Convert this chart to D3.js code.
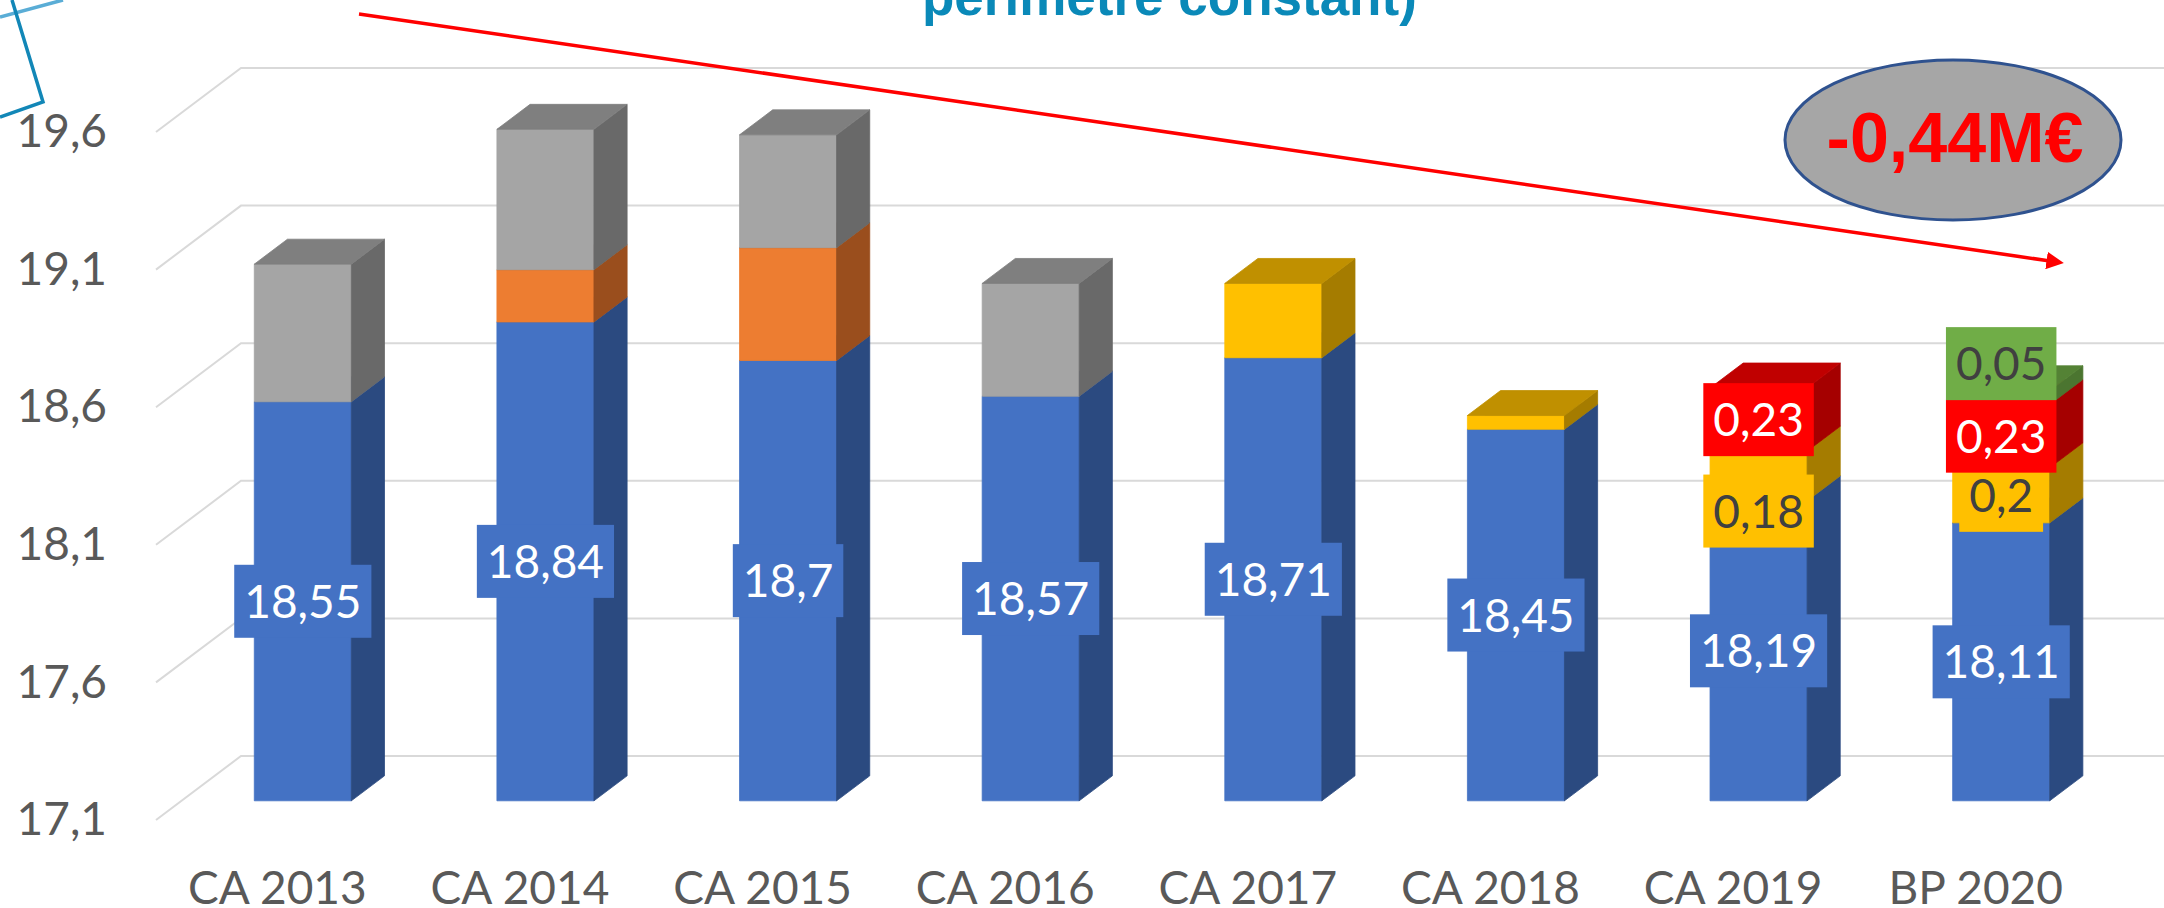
<!DOCTYPE html>
<html>
<head>
<meta charset="utf-8">
<script src="https://cdn.jsdelivr.net/npm/d3@7"></script>
<style>
  body { margin: 0; background: #fff; }
  svg { display: block; }
</style>
</head>
<body>
<svg width="2164" height="908"></svg>
<script>
// Chart data (values in M€)
var categories   = ["CA 2013", "CA 2014", "CA 2015", "CA 2016", "CA 2017", "CA 2018", "CA 2019", "BP 2020"];
var baseValues   = [18.55, 18.84, 18.7, 18.57, 18.71, 18.45, 18.19, 18.11];
var orangeValues = [0, 0.19, 0.41, 0, 0, 0, 0, 0];
var greyValues   = [0.5, 0.51, 0.41, 0.41, 0, 0, 0, 0];
var yellowValues = [0, 0, 0, 0, 0.27, 0.05, 0.18, 0.2];
var redValues    = [0, 0, 0, 0, 0, 0, 0.23, 0.23];
var greenValues  = [0, 0, 0, 0, 0, 0, 0, 0.05];
var tickValues   = [17.1, 17.6, 18.1, 18.6, 19.1, 19.6];
var titleText    = "périmètre constant)";
var badgeText    = "-0,44M€";

var seriesKeys   = ["base", "orange", "grey", "yellow", "red", "green"];
var seriesValues = [baseValues, orangeValues, greyValues, yellowValues, redValues, greenValues];

// which segments carry a data label
var labelledCats = {
  base: categories,
  yellow: ["CA 2019", "BP 2020"],
  red: ["CA 2019", "BP 2020"],
  green: ["BP 2020"]
};

// Colours for the three visible faces of each box
var faceColors = {
  base:   { front: "#4472C4", side: "#2B4A80", top: "#3A63AC" },
  orange: { front: "#ED7D31", side: "#9A4E1D", top: "#B35E24" },
  grey:   { front: "#A5A5A5", side: "#696969", top: "#7F7F7F" },
  yellow: { front: "#FFC000", side: "#A57C00", top: "#C09000" },
  red:    { front: "#FF0000", side: "#A50000", top: "#C00000" },
  green:  { front: "#70AD47", side: "#4B7530", top: "#548235" }
};
var labelColors = {
  base:   { fill: "#4472C4", text: "#FFFFFF" },
  yellow: { fill: "#FFC000", text: "#404040" },
  red:    { fill: "#FF0000", text: "#FFFFFF" },
  green:  { fill: "#70AD47", text: "#404040" }
};
// labels dragged by hand in the original
var labelNudge = { "yellow|CA 2019": 35, "green|BP 2020": -34 };

var FONT = "Lato, Carlito, Calibri, sans-serif";

var svg = d3.select("svg"),
    width = +svg.attr("width"),
    height = +svg.attr("height");

svg.append("rect").attr("width", width).attr("height", height).attr("fill", "#FFFFFF");

// 3D depth of the floor (oblique projection) and where the bars sit in it
var DX = 85, DY = 64, Z0 = 0.3, Z1 = 0.69;

// Scales on the front plane of the floor
var x = d3.scaleBand()
    .domain(categories)
    .range([156, 2097])
    .paddingInner(0.6)
    .paddingOuter(0.3);

var y = d3.scaleLinear()
    .domain([17.1, 19.6])
    .range([820, 132]);

var locale = d3.formatLocale({ decimal: ",", thousands: " ", grouping: [3], currency: ["", "€"] });
var fmt = locale.format("~g");

function proj(px, v, z) {
  return [px + z * DX, y(Math.max(v, y.domain()[0])) - z * DY];
}

// Gridlines: diagonal on the side wall, then along the back wall
svg.append("g")
    .attr("class", "grid")
  .selectAll("polyline")
  .data(tickValues)
  .enter().append("polyline")
    .attr("points", function(t) {
      var x0 = x.range()[0];
      return [[x0, y(t)], [x0 + DX, y(t) - DY], [width + 10, y(t) - DY]].join(" ");
    })
    .attr("fill", "none")
    .attr("stroke", "#D9D9D9")
    .attr("stroke-width", 2);

// Y axis labels
var yAxis = svg.append("g")
    .attr("transform", "translate(107,0)")
    .call(d3.axisLeft(y).tickValues(tickValues).tickSize(0).tickPadding(0).tickFormat(fmt));
yAxis.select(".domain").remove();
yAxis.attr("font-family", FONT).attr("font-size", 46);
yAxis.selectAll("text").attr("fill", "#595959");

// Category labels under the floor front edge
var xAxis = svg.append("g")
    .attr("transform", "translate(0,871)")
    .call(d3.axisBottom(x).tickSize(0).tickPadding(0));
xAxis.select(".domain").remove();
xAxis.attr("font-family", FONT).attr("font-size", 46);
xAxis.selectAll("text").attr("fill", "#595959");

// Stack the series
var rows = categories.map(function(c, i) {
  var r = { category: c };
  seriesKeys.forEach(function(k, j) { r[k] = seriesValues[j][i]; });
  return r;
});
var stacked = d3.stack().keys(seriesKeys)(rows);

// flat list of segments, bottom to top for each bar
var segments = [];
categories.forEach(function(c, i) {
  stacked.forEach(function(s) {
    var d = s[i];
    if (d[1] - d[0] > 0) segments.push({ key: s.key, category: c, lo: d[0], hi: d[1], value: d[1] - d[0] });
  });
});

var bw = x.bandwidth();

function facePath(pts) { return "M" + pts.map(function(p) { return p.join(","); }).join("L") + "Z"; }

var seg = svg.append("g")
    .attr("class", "bars")
  .selectAll("g")
  .data(segments)
  .enter().append("g");

seg.append("path")
    .attr("d", function(d) {
      var x0 = x(d.category), x1 = x0 + bw;
      return facePath([proj(x0, d.lo, Z0), proj(x1, d.lo, Z0), proj(x1, d.hi, Z0), proj(x0, d.hi, Z0)]);
    })
    .attr("fill", function(d) { return faceColors[d.key].front; })
    .attr("stroke", function(d) { return faceColors[d.key].front; })
    .attr("stroke-width", 0.8);

seg.append("path")
    .attr("d", function(d) {
      var x1 = x(d.category) + bw;
      return facePath([proj(x1, d.lo, Z0), proj(x1, d.lo, Z1), proj(x1, d.hi, Z1), proj(x1, d.hi, Z0)]);
    })
    .attr("fill", function(d) { return faceColors[d.key].side; })
    .attr("stroke", function(d) { return faceColors[d.key].side; })
    .attr("stroke-width", 0.8);

seg.append("path")
    .attr("d", function(d) {
      var x0 = x(d.category), x1 = x0 + bw;
      return facePath([proj(x0, d.hi, Z0), proj(x1, d.hi, Z0), proj(x1, d.hi, Z1), proj(x0, d.hi, Z1)]);
    })
    .attr("fill", function(d) { return faceColors[d.key].top; })
    .attr("stroke", function(d) { return faceColors[d.key].top; })
    .attr("stroke-width", 0.8);

// Data labels (boxes centred on the front face of their segment)
var labelData = segments.filter(function(d) {
  return labelledCats[d.key] && labelledCats[d.key].indexOf(d.category) >= 0;
});

var labels = svg.append("g")
    .attr("class", "labels")
    .attr("font-family", FONT)
    .attr("font-size", 46)
  .selectAll("g")
  .data(labelData)
  .enter().append("g")
    .attr("transform", function(d) {
      var cx = x(d.category) + bw / 2 + Z0 * DX;
      var cy = (y(d.lo > y.domain()[0] ? d.lo : y.domain()[0]) + y(d.hi)) / 2 - Z0 * DY;
      cy += labelNudge[d.key + "|" + d.category] || 0;
      return "translate(" + cx + "," + cy + ")";
    });

labels.append("rect")
    .attr("fill", function(d) { return labelColors[d.key].fill; });

labels.append("text")
    .attr("text-anchor", "middle")
    .attr("dy", "0.36em")
    .attr("fill", function(d) { return labelColors[d.key].text; })
    .text(function(d) { return fmt(d.key === "base" ? d.hi : +d.value.toFixed(2)); });

labels.each(function() {
  var g = d3.select(this);
  var w = g.select("text").node().getComputedTextLength() + 20;
  g.select("rect").attr("x", -w / 2).attr("y", -36.5).attr("width", w).attr("height", 73);
});

// Decorative frame fragment in the top-left corner
svg.append("path")
    .attr("d", "M0,17L63,0")
    .attr("fill", "none")
    .attr("stroke", "#5AADD6")
    .attr("stroke-width", 3.5);
svg.append("path")
    .attr("d", "M12,0L43,102L0,117")
    .attr("fill", "none")
    .attr("stroke", "#1287B7")
    .attr("stroke-width", 3.5);

// Title (only its lower part is inside the frame)
svg.append("text")
    .attr("x", 922)
    .attr("y", 15)
    .attr("font-family", "'Liberation Sans', Arial, sans-serif")
    .attr("font-weight", "bold")
    .attr("font-size", 53)
    .attr("fill", "#0A89B8")
    .text(titleText);

// Trend arrow
svg.append("defs").append("marker")
    .attr("id", "arrowHead")
    .attr("viewBox", "0 0 10 10")
    .attr("refX", 2)
    .attr("refY", 5)
    .attr("markerWidth", 5)
    .attr("markerHeight", 5)
    .attr("orient", "auto")
  .append("path")
    .attr("d", "M0,0L10,5L0,10Z")
    .attr("fill", "#FF0000");

svg.append("line")
    .attr("x1", 359).attr("y1", 14)
    .attr("x2", 2050).attr("y2", 261)
    .attr("stroke", "#FF0000")
    .attr("stroke-width", 3.5)
    .attr("marker-end", "url(#arrowHead)");

// Badge with the overall change
svg.append("ellipse")
    .attr("cx", 1953).attr("cy", 140)
    .attr("rx", 168).attr("ry", 80)
    .attr("fill", "#A6A6A6")
    .attr("stroke", "#2F528F")
    .attr("stroke-width", 3);

svg.append("text")
    .attr("x", 1955)
    .attr("y", 162)
    .attr("text-anchor", "middle")
    .attr("font-family", "'Liberation Sans', Arial, sans-serif")
    .attr("font-weight", "bold")
    .attr("font-size", 70)
    .attr("fill", "#FF0000")
    .text(badgeText);
</script>
</body>
</html>
